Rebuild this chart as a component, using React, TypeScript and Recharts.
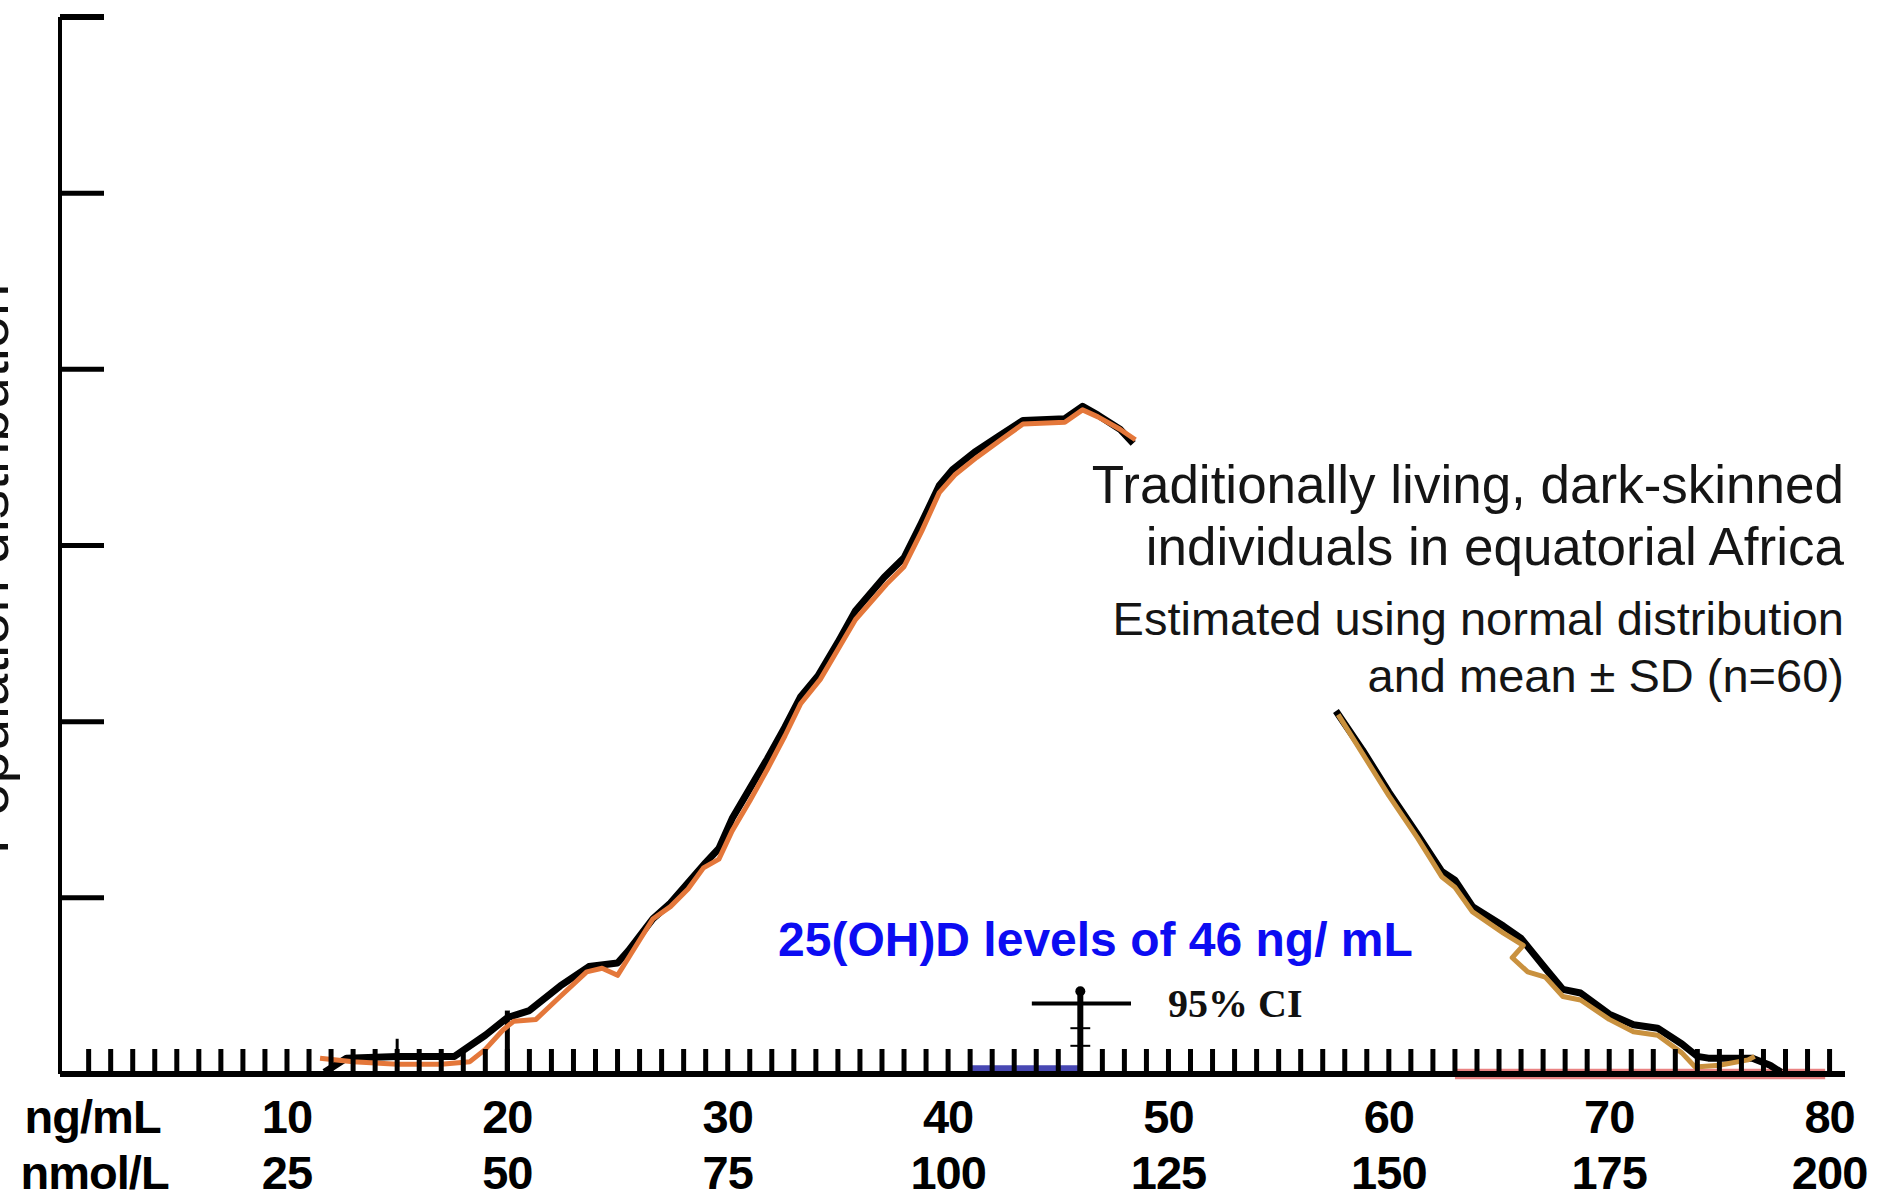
import React from "react";
import {
  Line,
  LineChart,
  ReferenceArea,
  ReferenceDot,
  ReferenceLine,
  XAxis,
  YAxis,
} from "recharts";

// serum 25(OH)D axis: ng/mL with the matching nmol/L row underneath
const NG_LABELS = [10, 20, 30, 40, 50, 60, 70, 80];
const NMOL_LABELS = [25, 50, 75, 100, 125, 150, 175, 200];
const MINOR_TICKS = [
  0, 1, 2, 3, 4, 5, 6, 7, 8, 9, 10, 11, 12, 13, 14, 15, 16, 17, 18, 19, 20,
  21, 22, 23, 24, 25, 26, 27, 28, 29, 30, 31, 32, 33, 34, 35, 36, 37, 38, 39,
  40, 41, 42, 43, 44, 45, 46, 47, 48, 49, 50, 51, 52, 53, 54, 55, 56, 57, 58,
  59, 60, 61, 62, 63, 64, 65, 66, 67, 68, 69, 70, 71, 72, 73, 74, 75, 76, 77,
  78, 79, 80,
];
const Y_TICKS = [0, 1, 2, 3, 4, 5, 6];

// population distribution, [ng/mL, relative frequency]
const blackRise: [number, number][] = [
  [11.7, 0.01], [12.7, 0.09], [15, 0.1], [17.6, 0.1], [19, 0.22], [20, 0.32],
  [21, 0.36], [22.4, 0.5], [23.7, 0.61], [25, 0.63], [25.5, 0.7], [26.6, 0.88],
  [27.4, 0.97], [28.3, 1.1], [29, 1.2], [29.6, 1.28], [30.2, 1.45], [31, 1.62],
  [31.8, 1.79], [32.6, 1.97], [33.3, 2.14], [34.1, 2.26], [35, 2.45],
  [35.8, 2.63], [37.1, 2.82], [38, 2.93], [38.8, 3.13], [39.6, 3.34],
  [40.2, 3.43], [41.2, 3.53], [42.3, 3.62], [43.4, 3.71], [45.3, 3.72],
  [46.1, 3.79], [46.8, 3.74], [47.8, 3.66], [48.4, 3.58],
];
const orangeRise: [number, number][] = [
  [11.5, 0.09], [13, 0.07], [15, 0.055], [17, 0.055], [18.3, 0.07], [19, 0.14],
  [19.8, 0.25], [20.3, 0.3], [21.3, 0.31], [22.4, 0.44], [23.6, 0.58],
  [24.3, 0.6], [25, 0.56], [25.6, 0.68], [26.6, 0.88], [27.4, 0.95],
  [28.2, 1.05], [28.9, 1.17], [29.6, 1.22], [30.2, 1.38], [31, 1.55],
  [31.8, 1.73], [32.6, 1.92], [33.3, 2.1], [34.2, 2.24], [35, 2.41],
  [35.8, 2.58], [37.2, 2.78], [38, 2.88], [38.8, 3.08], [39.6, 3.3],
  [40.3, 3.4], [41.3, 3.5], [42.4, 3.6], [43.4, 3.69], [45.3, 3.7],
  [46.1, 3.77], [46.8, 3.73], [47.8, 3.66], [48.5, 3.6],
];
const blackFall: [number, number][] = [
  [57.6, 2.06], [58.8, 1.84], [60, 1.6], [61.3, 1.36], [62.4, 1.15], [63, 1.1],
  [63.8, 0.95], [65.2, 0.84], [66, 0.77], [67.1, 0.6], [67.9, 0.48],
  [68.7, 0.46], [70, 0.34], [71.1, 0.28], [72.2, 0.26], [73.3, 0.17],
  [74, 0.1], [74.5, 0.09], [76.5, 0.09], [77.3, 0.05], [77.8, 0.01],
];
const orangeFall: [number, number][] = [
  [57.7, 2.04], [58.8, 1.82], [60, 1.58], [61.3, 1.34], [62.4, 1.12],
  [63, 1.06], [63.8, 0.92], [65.2, 0.8], [66.1, 0.73], [65.6, 0.66],
  [66.3, 0.58], [67.1, 0.55], [67.9, 0.44], [68.7, 0.42], [70, 0.31],
  [71.1, 0.24], [72.2, 0.22], [73.3, 0.12], [73.9, 0.04], [75, 0.05],
  [76.3, 0.08], [76.6, 0.1],
];

// mean with its 95% CI bar
const CI_MEAN = 46;
const CI_LOW = 43.8;
const CI_HIGH = 48.3;
const CI_LEVEL = 0.4;
const CI_TOP = 0.47;

const toPoints = (pairs: [number, number][]) =>
  pairs.map(([x, y]) => ({ x, y }));

const SANS = "'Liberation Sans', Arial, Helvetica, sans-serif";
const SERIF = "'Liberation Serif', 'Times New Roman', serif";

function NgTick({ x, y, payload }: any) {
  const value = payload.value as number;
  const idx = NG_LABELS.indexOf(value);
  const labelStyle = {
    fontFamily: SANS,
    fontWeight: 700,
    fontSize: 47,
    fill: "#000",
    letterSpacing: -1,
  };

  return (
    <g>
      {value > 0 && (
        <line
          x1={x}
          x2={x}
          y1={y}
          y2={y - 25}
          stroke="#000"
          strokeWidth={5}
        />
      )}
      {idx >= 0 && (
        <>
          <text x={x} y={y + 59} textAnchor="middle" style={labelStyle}>
            {value}
          </text>
          <text x={x} y={y + 115} textAnchor="middle" style={labelStyle}>
            {NMOL_LABELS[idx]}
          </text>
        </>
      )}
      {value === 0 && (
        <>
          <text x={x + 26} y={y + 59} textAnchor="middle" style={labelStyle}>
            ng/mL
          </text>
          <text x={x + 28} y={y + 115} textAnchor="middle" style={labelStyle}>
            nmol/L
          </text>
        </>
      )}
    </g>
  );
}

function PopulationTick({ x, y, payload }: any) {
  if (payload.value === 0) return null;
  return (
    <line
      x1={x}
      x2={x + 44}
      y1={y}
      y2={y}
      stroke="#000"
      strokeWidth={payload.value === 6 ? 6 : 5}
    />
  );
}

export default function App() {
  return (
    <div style={{ position: "relative", width: 1878, height: 1198, background: "#fff" }}>
      <style>{"body { margin: 0; }"}</style>

      <LineChart
        width={1878}
        height={1198}
        margin={{ top: 17, right: 33, bottom: 0, left: 0 }}
      >
        <XAxis
          type="number"
          dataKey="x"
          domain={[-0.3, 80.7]}
          allowDataOverflow
          ticks={MINOR_TICKS}
          interval={0}
          tickSize={0}
          tickMargin={0}
          tickLine={false}
          tick={<NgTick />}
          axisLine={{ stroke: "#000", strokeWidth: 6 }}
          height={124}
        />
        <YAxis
          type="number"
          dataKey="y"
          domain={[0, 6]}
          ticks={Y_TICKS}
          interval={0}
          tickSize={0}
          tickMargin={0}
          tickLine={false}
          tick={<PopulationTick />}
          axisLine={{ stroke: "#000", strokeWidth: 4 }}
          width={60}
        />

        {/* faint coloured smear left along the baseline */}
        <ReferenceArea
          x1={41}
          x2={46}
          y1={0}
          y2={0.05}
          fill="#1a1aa0"
          fillOpacity={0.8}
          stroke="none"
        />
        <ReferenceArea
          x1={63}
          x2={79.8}
          y1={-0.03}
          y2={0.03}
          fill="#d81e1e"
          fillOpacity={0.55}
          stroke="none"
          ifOverflow="visible"
        />

        <ReferenceLine
          segment={[{ x: 20, y: 0 }, { x: 20, y: 0.36 }]}
          stroke="#000"
          strokeWidth={5}
        />
        <ReferenceLine
          segment={[{ x: 15, y: 0 }, { x: 15, y: 0.2 }]}
          stroke="#000"
          strokeWidth={3}
        />

        <Line
          data={toPoints(blackRise)}
          dataKey="y"
          type="linear"
          stroke="#000"
          strokeWidth={7}
          strokeLinejoin="round"
          dot={false}
          activeDot={false}
          isAnimationActive={false}
        />
        <Line
          data={toPoints(orangeRise)}
          dataKey="y"
          type="linear"
          stroke="#e4773a"
          strokeWidth={5}
          strokeLinejoin="round"
          dot={false}
          activeDot={false}
          isAnimationActive={false}
        />
        <Line
          data={toPoints(blackFall)}
          dataKey="y"
          type="linear"
          stroke="#000"
          strokeWidth={7}
          strokeLinejoin="round"
          dot={false}
          activeDot={false}
          isAnimationActive={false}
        />
        <Line
          data={toPoints(orangeFall)}
          dataKey="y"
          type="linear"
          stroke="#c9913e"
          strokeWidth={5}
          strokeLinejoin="round"
          dot={false}
          activeDot={false}
          isAnimationActive={false}
        />

        <ReferenceLine
          segment={[{ x: CI_MEAN, y: 0 }, { x: CI_MEAN, y: CI_TOP }]}
          stroke="#000"
          strokeWidth={6}
        />
        <ReferenceLine
          segment={[{ x: CI_LOW, y: CI_LEVEL }, { x: CI_HIGH, y: CI_LEVEL }]}
          stroke="#000"
          strokeWidth={4}
        />
        <ReferenceLine
          segment={[{ x: CI_MEAN - 0.45, y: 0.26 }, { x: CI_MEAN + 0.45, y: 0.26 }]}
          stroke="#000"
          strokeWidth={2}
        />
        <ReferenceLine
          segment={[{ x: CI_MEAN - 0.45, y: 0.16 }, { x: CI_MEAN + 0.45, y: 0.16 }]}
          stroke="#000"
          strokeWidth={2}
        />
        <ReferenceDot x={CI_MEAN} y={CI_TOP} r={5} fill="#000" stroke="none" />
      </LineChart>

      <svg
        width={1878}
        height={1198}
        style={{ position: "absolute", left: 0, top: 0, pointerEvents: "none" }}
      >
        <text
          transform="translate(8, 569) rotate(-90)"
          textAnchor="middle"
          style={{ fontFamily: SANS, fontSize: 58, fill: "#111" }}
        >
          Population distribution
        </text>

        <g style={{ fontFamily: SANS, fill: "#151515" }} textAnchor="end">
          <text x={1844} y={503} fontSize={53}>
            Traditionally living, dark-skinned
          </text>
          <text x={1844} y={565} fontSize={53}>
            individuals in equatorial Africa
          </text>
          <text x={1844} y={635} fontSize={47}>
            Estimated using normal distribution
          </text>
          <text x={1844} y={692} fontSize={47}>
            and mean ± SD (n=60)
          </text>
        </g>

        <text
          x={778}
          y={956}
          style={{ fontFamily: SANS, fontWeight: 700, fontSize: 48, fill: "#0c0cf2" }}
        >
          25(OH)D levels of 46 ng/ mL
        </text>

        <text
          x={1168}
          y={1017}
          style={{ fontFamily: SERIF, fontWeight: 700, fontSize: 40, fill: "#111" }}
        >
          95% CI
        </text>
      </svg>
    </div>
  );
}
